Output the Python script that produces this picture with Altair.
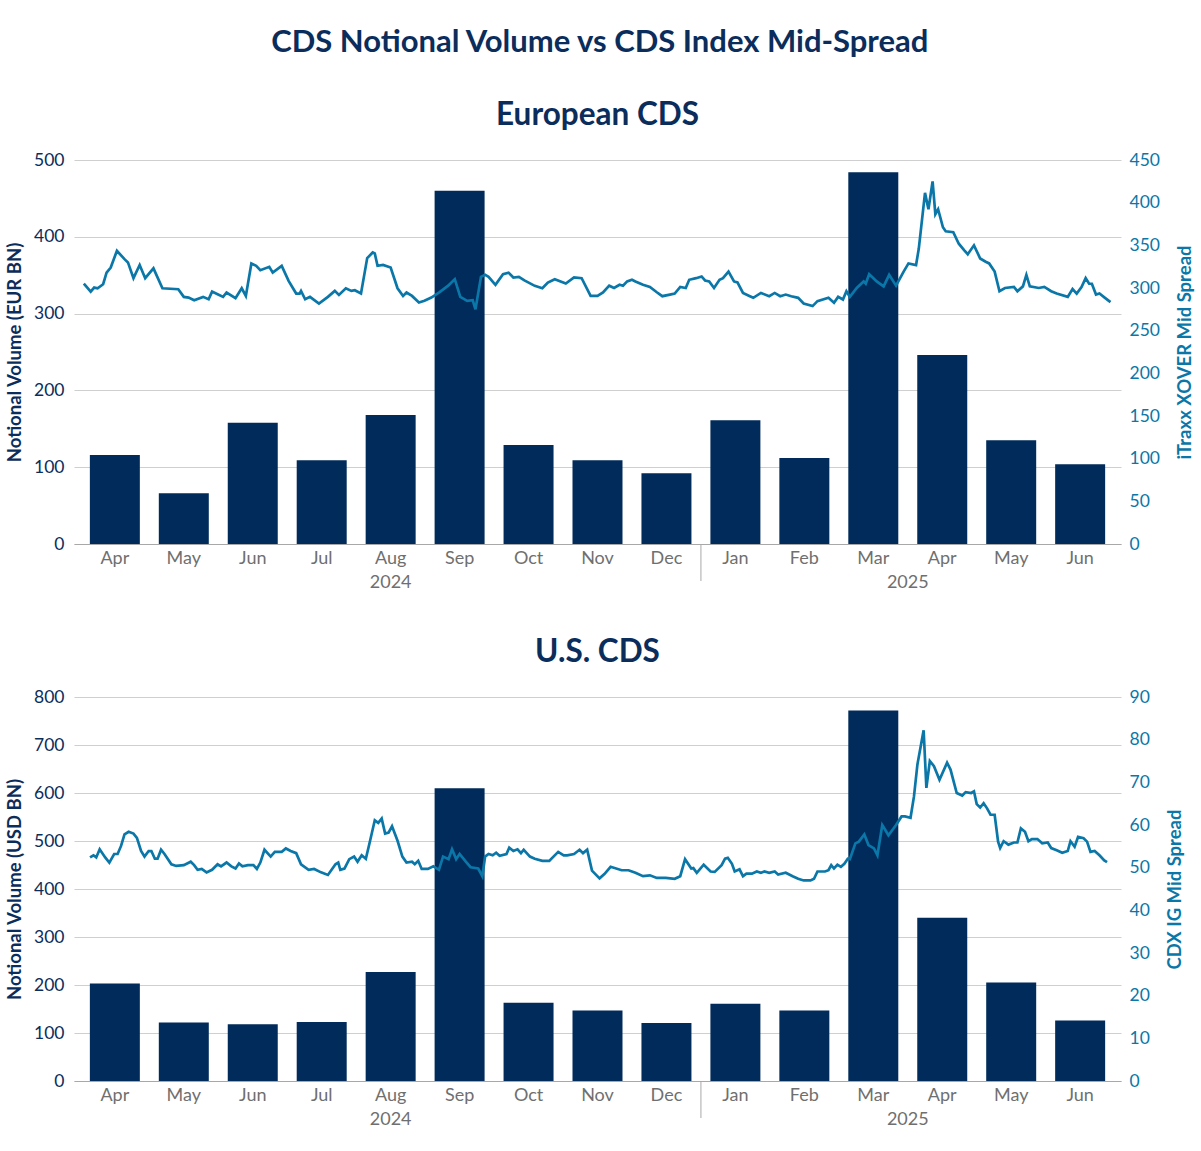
import altair as alt
import pandas as pd

# ---------------- data ----------------
months = ["Apr 2024", "May 2024", "Jun 2024", "Jul 2024", "Aug 2024", "Sep 2024",
          "Oct 2024", "Nov 2024", "Dec 2024", "Jan 2025", "Feb 2025", "Mar 2025",
          "Apr 2025", "May 2025", "Jun 2025"]
eu_volume = [116, 66, 158, 109, 168, 460, 129, 109, 92, 161, 112, 484, 246, 135, 104]
us_volume = [203, 122, 118, 123, 227, 610, 163, 147, 121, 161, 147, 772, 340, 205, 126]

# line series: time in months since 1 Apr 2024, and index mid spread
eu_t = [0.05, 0.15, 0.2, 0.25, 0.33, 0.38, 0.44, 0.53, 0.64, 0.69, 0.77, 0.86, 0.94, 1.06,
        1.19, 1.42, 1.5, 1.57, 1.65, 1.78, 1.86, 1.91, 1.99, 2.07, 2.12, 2.25, 2.34, 2.4,
        2.48, 2.55, 2.61, 2.74, 2.79, 2.92, 3.02, 3.13, 3.18, 3.2, 3.26, 3.33, 3.46, 3.59,
        3.69, 3.75, 3.85, 3.93, 3.98, 4.07, 4.16, 4.24, 4.27, 4.31, 4.39, 4.5, 4.6, 4.68,
        4.73, 4.81, 4.91, 4.99, 5.09, 5.2, 5.33, 5.43, 5.51, 5.61, 5.69, 5.73, 5.81, 5.87,
        5.92, 6.02, 6.13, 6.21, 6.28, 6.36, 6.44, 6.59, 6.7, 6.78, 6.88, 7.04, 7.16, 7.27,
        7.4, 7.5, 7.58, 7.67, 7.74, 7.82, 7.87, 7.93, 8.0, 8.05, 8.16, 8.26, 8.36, 8.44,
        8.55, 8.62, 8.7, 8.78, 8.83, 8.93, 9.01, 9.06, 9.12, 9.19, 9.27, 9.32, 9.4, 9.48,
        9.53, 9.61, 9.71, 9.76, 9.87, 9.99, 10.07, 10.15, 10.23, 10.31, 10.41, 10.49,
        10.62, 10.69, 10.85, 10.93, 10.99, 11.06, 11.11, 11.16, 11.26, 11.36, 11.39,
        11.44, 11.55, 11.65, 11.73, 11.83, 11.94, 12.01, 12.12, 12.16, 12.25, 12.3,
        12.36, 12.4, 12.44, 12.51, 12.55, 12.66, 12.74, 12.82, 12.87, 12.96, 13.05,
        13.13, 13.18, 13.26, 13.33, 13.41, 13.54, 13.59, 13.67, 13.72, 13.77, 13.9,
        13.98, 14.08, 14.16, 14.32, 14.39, 14.45, 14.52, 14.58, 14.63, 14.67, 14.73,
        14.78, 14.86, 14.94]
eu_spread = [305.2, 295.8, 300.5, 299.7, 304.4, 318.0, 324.0, 343.6, 333.8, 330.0, 311.5,
             327.0, 311.5, 323.0, 299.7, 298.6, 289.6, 288.8, 285.7, 289.6, 286.8, 295.8,
             292.7, 289.6, 294.7, 288.0, 299.7, 290.7, 328.7, 326.0, 320.9, 324.8, 318.0,
             325.9, 308.4, 293.5, 293.5, 296.6, 286.8, 289.6, 281.7, 289.6, 296.6, 291.9,
             299.7, 296.6, 297.4, 293.5, 335.0, 341.6, 340.4, 326.0, 327.0, 324.0, 299.7,
             290.7, 294.7, 290.7, 283.0, 285.0, 288.8, 294.7, 302.5, 310.3, 289.6, 285.0,
             285.7, 275.0, 313.0, 315.4, 313.0, 303.7, 316.2, 318.0, 312.3, 313.0, 309.0,
             302.5, 299.7, 306.4, 310.3, 305.2, 312.3, 311.5, 290.7, 290.7, 294.7, 302.7,
             300.0, 303.8, 302.7, 307.7, 309.6, 307.7, 303.8, 301.2, 295.0, 290.4, 292.3,
             293.5, 301.2, 300.0, 309.6, 311.5, 313.5, 308.8, 307.7, 300.0, 309.6, 311.5,
             319.2, 307.7, 306.5, 294.2, 290.4, 288.5, 294.2, 290.4, 294.2, 290.4, 292.3,
             290.4, 288.5, 281.9, 278.8, 284.6, 288.5, 282.7, 289.6, 286.5, 296.2, 289.6,
             300.0, 307.7, 305.0, 316.2, 307.7, 301.9, 315.4, 302.7, 319.2, 328.8, 326.9,
             346.2, 411.5, 392.3, 425.0, 386.5, 392.3, 371.2, 366.5, 365.4, 351.9, 344.2,
             339.6, 350.0, 334.6, 330.8, 328.8, 319.2, 296.2, 300.0, 301.2, 296.2, 301.9,
             315.4, 301.9, 300.0, 301.2, 296.2, 293.5, 289.6, 298.8, 293.5, 301.2, 311.5,
             305.0, 305.0, 292.3, 293.5, 288.5, 283.5]

us_t = [0.14, 0.19, 0.23, 0.28, 0.36, 0.42, 0.49, 0.54, 0.59, 0.64, 0.7, 0.77, 0.82, 0.88,
        0.93, 0.99, 1.03, 1.08, 1.12, 1.17, 1.22, 1.32, 1.39, 1.5, 1.6, 1.65, 1.7, 1.76,
        1.83, 1.91, 1.99, 2.04, 2.12, 2.19, 2.25, 2.3, 2.35, 2.43, 2.51, 2.56, 2.61, 2.67,
        2.76, 2.82, 2.92, 2.98, 3.05, 3.13, 3.2, 3.31, 3.39, 3.49, 3.59, 3.7, 3.74, 3.77,
        3.83, 3.9, 3.97, 4.02, 4.08, 4.14, 4.19, 4.27, 4.32, 4.37, 4.42, 4.47, 4.52, 4.6,
        4.67, 4.73, 4.81, 4.85, 4.9, 4.95, 5.04, 5.12, 5.2, 5.26, 5.34, 5.39, 5.45, 5.5,
        5.59, 5.66, 5.77, 5.83, 5.87, 5.92, 5.98, 6.03, 6.08, 6.18, 6.22, 6.28, 6.34, 6.39,
        6.43, 6.52, 6.59, 6.7, 6.8, 6.93, 7.01, 7.06, 7.16, 7.24, 7.29, 7.35, 7.42, 7.53,
        7.6, 7.69, 7.85, 7.95, 8.05, 8.16, 8.26, 8.36, 8.49, 8.62, 8.7, 8.77, 8.86, 8.89,
        8.94, 9.04, 9.14, 9.2, 9.3, 9.35, 9.39, 9.45, 9.49, 9.56, 9.61, 9.66, 9.74, 9.81,
        9.87, 9.92, 9.99, 10.07, 10.12, 10.23, 10.33, 10.41, 10.49, 10.59, 10.64, 10.69,
        10.8, 10.85, 10.89, 10.93, 10.98, 11.03, 11.08, 11.13, 11.16, 11.24, 11.29, 11.37,
        11.43, 11.51, 11.56, 11.63, 11.72, 11.83, 11.91, 11.96, 12.04, 12.09, 12.14,
        12.23, 12.27, 12.32, 12.38, 12.46, 12.57, 12.62, 12.71, 12.79, 12.84, 12.92,
        12.96, 13.0, 13.05, 13.1, 13.15, 13.2, 13.26, 13.31, 13.34, 13.39, 13.46, 13.54,
        13.59, 13.64, 13.7, 13.75, 13.8, 13.88, 13.95, 14.03, 14.08, 14.16, 14.24, 14.32,
        14.36, 14.42, 14.47, 14.55, 14.6, 14.65, 14.71, 14.78, 14.85, 14.89]
us_spread = [52.4, 52.9, 52.4, 54.3, 52.4, 51.2, 53.2, 53.2, 55.1, 57.8, 58.4, 58.0, 57.0,
             53.9, 52.6, 53.9, 53.9, 52.1, 52.1, 54.2, 53.2, 50.8, 50.4, 50.6, 51.4, 50.6,
             49.5, 49.7, 48.9, 49.5, 50.8, 50.3, 51.2, 50.3, 49.8, 51.0, 50.3, 50.6, 50.6,
             49.7, 51.2, 54.2, 52.6, 53.7, 53.7, 54.5, 53.9, 53.4, 50.8, 49.5, 49.7, 48.9,
             48.3, 50.8, 51.2, 49.5, 49.8, 52.0, 52.6, 51.4, 52.9, 52.1, 55.5, 61.1, 60.5,
             61.5, 58.0, 58.2, 59.7, 56.3, 52.6, 51.2, 51.4, 50.8, 51.6, 49.7, 49.7, 50.3,
             49.5, 52.6, 52.0, 54.3, 52.0, 53.2, 51.4, 50.1, 49.8, 48.0, 52.6, 53.2, 52.9,
             53.5, 52.8, 53.2, 54.7, 53.9, 54.3, 53.4, 54.2, 52.6, 52.1, 51.6, 51.6, 53.7,
             52.9, 52.9, 53.2, 54.2, 53.4, 54.2, 49.3, 47.5, 48.5, 50.2, 49.4, 49.4, 48.8,
             48.0, 48.2, 47.6, 47.6, 47.4, 48.0, 52.0, 49.8, 49.9, 48.8, 50.7, 49.1, 49.0,
             50.6, 52.1, 52.3, 50.9, 49.1, 49.6, 48.0, 48.6, 48.6, 49.1, 48.8, 49.1, 48.8,
             49.1, 48.4, 48.8, 48.0, 47.4, 47.0, 47.0, 47.4, 49.1, 49.1, 49.4, 50.6, 49.8,
             50.7, 50.2, 50.9, 52.1, 52.0, 55.7, 56.1, 57.8, 55.3, 54.5, 52.9, 60.0, 57.6,
             60.0, 62.0, 62.0, 61.7, 66.7, 74.2, 82.2, 68.7, 75.0, 73.8, 70.6, 74.6, 73.0,
             67.5, 66.9, 67.7, 67.5, 67.9, 64.9, 64.1, 65.1, 63.9, 62.4, 62.4, 56.1, 54.6,
             56.2, 55.4, 55.9, 55.9, 59.2, 58.4, 56.2, 56.7, 56.7, 55.7, 55.9, 54.6, 54.1,
             53.5, 53.9, 56.2, 54.9, 57.2, 56.9, 56.1, 53.7, 53.9, 52.9, 51.7, 51.3]

years = ["2024", "2025"]
year_centers = [4.5, 12.0]      # centre of Apr–Dec 2024 and Jan–Jun 2025 (in months)
year_break = [9.0]              # boundary between Dec 2024 and Jan 2025

# ---------------- style ----------------
NAVY = "#0b2d5c"
BAR = "#002b5a"
TEAL = "#0a77a8"
GRAY = "#6f6f6f"
FONT = "Lato"
W, H = 1047, 384
P_IN, P_OUT = 0.275, 0.23
EDGE = P_OUT - P_IN / 2
tscale = alt.Scale(domain=[-EDGE, 15 + EDGE], nice=False, zero=False)


def panel(title, volume, tvals, spread, vol_title, vol_max, sp_title, sp_max, sp_step):
    bars_df = pd.DataFrame({"month": months, "volume": volume})
    line_df = pd.DataFrame({"t": tvals, "spread": spread})
    year_df = pd.DataFrame({"t": year_centers, "label": years})
    brk_df = pd.DataFrame({"t": year_break})

    bars = alt.Chart(bars_df).mark_bar(color=BAR).encode(
        x=alt.X("month:O", sort=months,
                scale=alt.Scale(paddingInner=P_IN, paddingOuter=P_OUT),
                axis=alt.Axis(title=None, labelAngle=0, labelExpr="split(datum.value, ' ')[0]",
                              labelColor=GRAY, labelFontSize=18, labelFont=FONT,
                              ticks=False, domainColor="#a8a8a8", labelPadding=5,
                              grid=False)),
        y=alt.Y("volume:Q", scale=alt.Scale(domain=[0, vol_max], nice=False),
                axis=alt.Axis(title=vol_title, values=list(range(0, vol_max + 1, 100)),
                              titleColor=NAVY, titleFontSize=18.5, titleFont=FONT,
                              titleFontWeight="bold", labelColor=NAVY, labelFontSize=17.5,
                              labelFont=FONT, grid=True, gridColor="#cfcfcf",
                              domain=False, ticks=False, labelPadding=10, titlePadding=9)),
    )
    line = alt.Chart(line_df).mark_line(color=TEAL, strokeWidth=2.7).encode(
        x=alt.X("t:Q", scale=tscale, axis=None),
        y=alt.Y("spread:Q", scale=alt.Scale(domain=[0, sp_max], nice=False),
                axis=alt.Axis(orient="right", title=sp_title,
                              values=list(range(0, sp_max + 1, sp_step)),
                              titleColor=TEAL, titleFontSize=18.5, titleFont=FONT,
                              titleFontWeight="bold", titleAngle=270, titleBaseline="top",
                              labelColor=TEAL, labelFontSize=17.5,
                              labelFont=FONT, grid=False, domain=False, ticks=False,
                              labelPadding=8, titlePadding=16)),
    )
    yrs = alt.Chart(year_df).mark_text(fontSize=18, font=FONT, color=GRAY,
                                       baseline="middle").encode(
        x=alt.X("t:Q", scale=tscale, axis=None),
        y=alt.value(H + 39),
        text="label:N",
    )
    brk = alt.Chart(brk_df).mark_rule(color="#a8a8a8", strokeWidth=1).encode(
        x=alt.X("t:Q", scale=tscale, axis=None),
        y=alt.value(H),
        y2=alt.value(H + 37),
    )
    return alt.layer(bars, line, brk, yrs).resolve_scale(
        x="independent", y="independent"
    ).properties(
        width=W, height=H,
        title=alt.TitleParams(title, fontSize=31.5, font=FONT, fontWeight="bold",
                              color=NAVY, anchor="middle", offset=20),
    )


top = panel("European CDS", eu_volume, eu_t, eu_spread, "Notional Volume (EUR BN)", 500,
            "iTraxx XOVER Mid Spread", 450, 50)
bottom = panel("U.S. CDS", us_volume, us_t, us_spread, "Notional Volume (USD BN)", 800,
               "CDX IG Mid Spread", 90, 10)

chart = alt.vconcat(top, bottom, spacing=44).properties(
    title=alt.TitleParams("CDS Notional Volume vs CDS Index Mid-Spread", fontSize=31,
                          font=FONT, fontWeight="bold", color=NAVY, anchor="middle",
                          offset=41),
    padding={"top": 26, "left": 5, "right": 5, "bottom": 5},
    background="white",
).configure_view(stroke=None)

chart.save("out.html", embed_options={"renderer": "svg", "actions": False})
